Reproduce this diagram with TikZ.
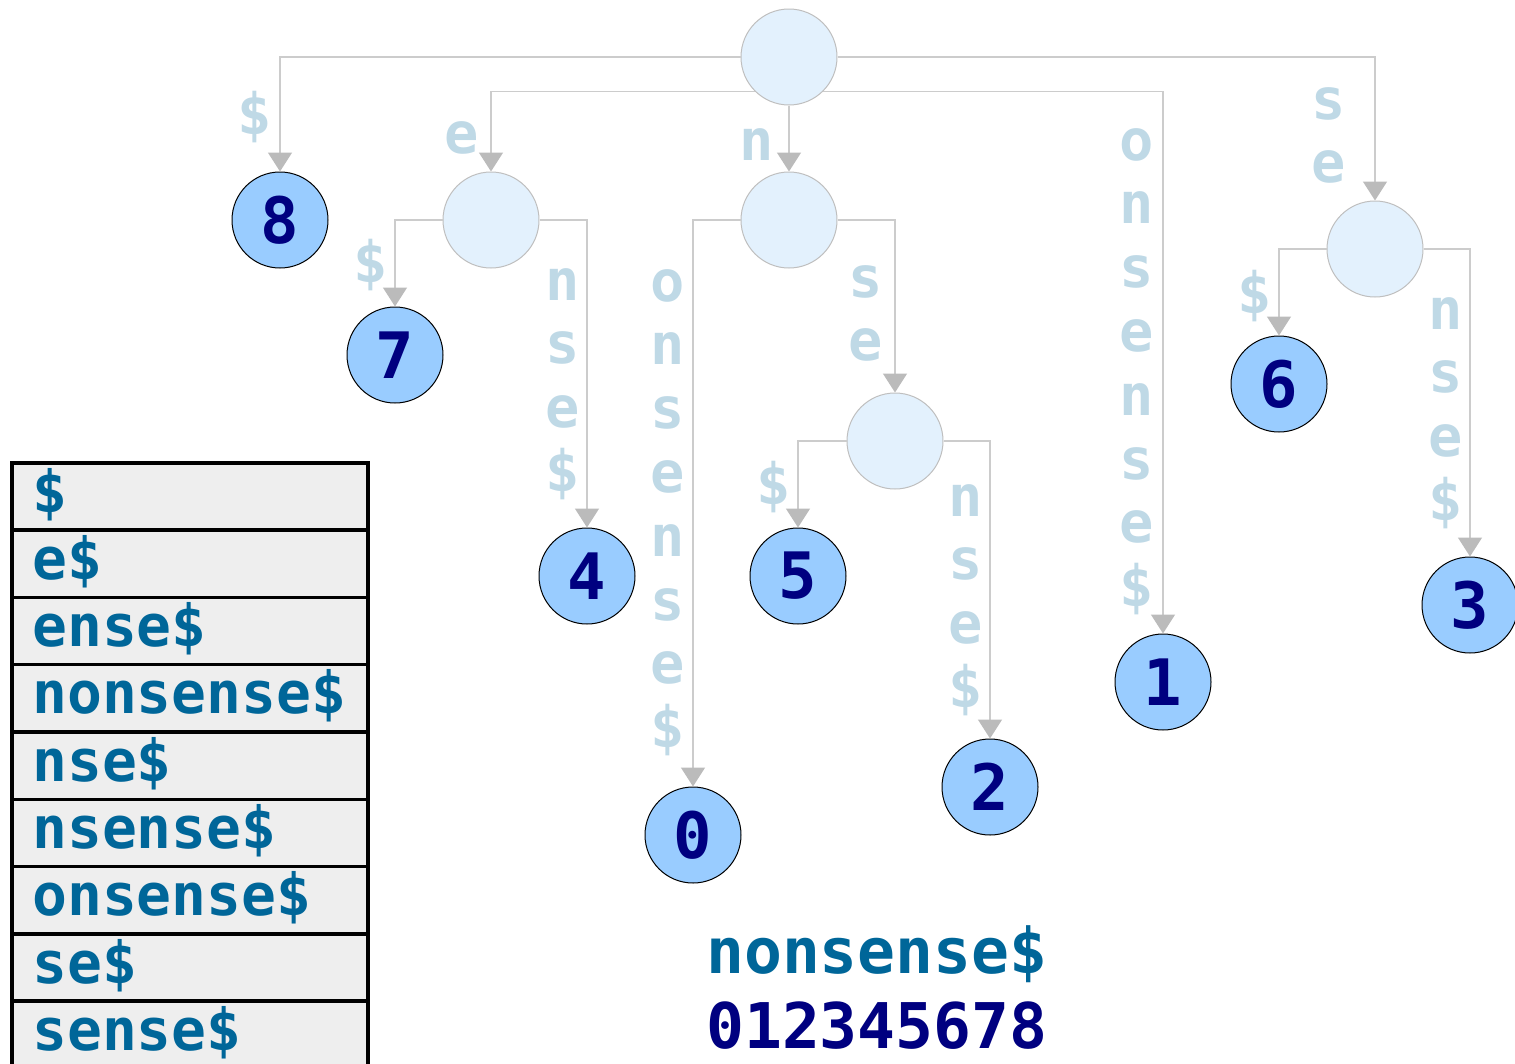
\documentclass[tikz,border=0pt]{standalone}
\usepackage{fontspec}
\newfontfamily\monofam{DejaVu Sans Mono}
\usetikzlibrary{arrows.meta}
\definecolor{leafblue}{RGB}{153,204,255}
\definecolor{branchblue}{RGB}{227,241,253}
\definecolor{edgegray}{RGB}{204,204,204}
\definecolor{tipgray}{RGB}{187,187,187}
\definecolor{labblue}{RGB}{191,217,230}
\definecolor{sufblue}{RGB}{0,102,153}
\definecolor{idxnavy}{RGB}{0,0,128}
\definecolor{cellgray}{RGB}{238,238,238}

\begin{document}
\begin{tikzpicture}[x=1pt,y=-1pt,
  leaf/.style={circle, draw=black, line width=1pt, fill=leafblue, minimum size=96pt, inner sep=0pt,
    text=idxnavy, font=\monofam\bfseries\fontsize{64}{64}\selectfont},
  branch/.style={circle, draw=black!25, line width=1pt, fill=branchblue, minimum size=96pt, inner sep=0pt},
  link/.style={draw=edgegray, line width=1.5pt, -{Triangle[width=24pt,length=19pt,color=tipgray]}},
  lab/.style={anchor=mid, inner sep=0pt, text=labblue, font=\monofam\bfseries\fontsize{57}{64}\selectfont},
  cell/.style={draw=black, line width=3.5pt, fill=cellgray, minimum width=356pt, minimum height=67.3pt,
    anchor=north west, inner sep=0pt},
  celltext/.style={anchor=base west, inner sep=0pt, text=sufblue, font=\monofam\bfseries\fontsize{58}{64}\selectfont}]
\useasboundingbox (0,0) rectangle (1515,1063);

% suffix tree
\node[branch] (root) at (789,57) {};
\node[branch] (ie) at (491,220) {};
\node[branch] (in) at (789,220) {};
\node[branch] (ins) at (895,441) {};
\node[branch] (ise) at (1375,249) {};
\foreach \k/\x/\y in {8/280/220, 7/395/355, 4/587/576, 0/693/835, 5/798/576, 2/990/787, 1/1163/682, 6/1279/384, 3/1470/605}
  \node[leaf] (leaf\k) at (\x,\y) {\k};

\foreach \a/\b in {root.west/leaf8, root.south west/ie, root.south/in, root.south east/leaf1, root.east/ise,
                   ie.west/leaf7, ie.east/leaf4, in.west/leaf0, in.east/ins,
                   ins.west/leaf5, ins.east/leaf2, ise.west/leaf6, ise.east/leaf3}
  \draw[link] (\a) -| (\b.north);

% edge labels, one letter per line
\foreach \x/\y/\s in {255/117/{\$}, 462/136/{e}, 757/143/{n}, 1137/143/{o,n,s,e,n,s,e,\$}, 1329/102/{s,e},
                      371/265/{\$}, 563/283/{n,s,e,\$}, 668/284/{o,n,s,e,n,s,e,\$}, 866/280/{s,e},
                      774/487/{\$}, 966/499/{n,s,e,\$}, 1255/296/{\$}, 1446/312/{n,s,e,\$}}
  \foreach \c [count=\i from 0] in \s
    \node[lab] (lab-\x-\i) at (\x,\y+15+63.8*\i) {\c};

% sorted suffixes
\foreach \t [count=\i from 0] in {\$, e\$, ense\$, nonsense\$, nse\$, nsense\$, onsense\$, se\$, sense\$} {
  \node[cell] (row\i) at (10,461+67.3*\i) {};
  \node[celltext] (suf\i) at (32,512+67.3*\i) {\t};
}

\node[anchor=base west, inner sep=0pt, text=sufblue, font=\monofam\bfseries\fontsize{63}{64}\selectfont] (word) at (706,973) {nonsense\$};
\node[anchor=base west, inner sep=0pt, text=idxnavy, font=\monofam\bfseries\fontsize{63}{64}\selectfont] (idx) at (706,1048) {012345678};
\end{tikzpicture}
\end{document}
